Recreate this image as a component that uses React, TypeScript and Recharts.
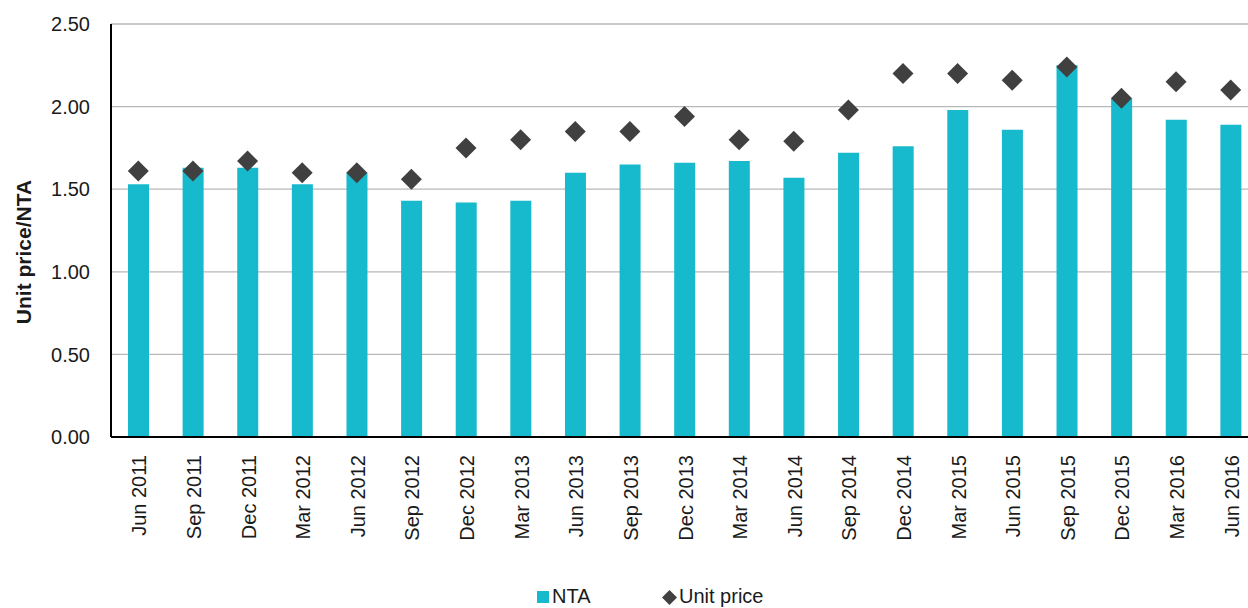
import React from 'react';
import { ComposedChart, Bar, Scatter, XAxis, YAxis, CartesianGrid, Legend } from 'recharts';

const quarters = [
  'Jun 2011', 'Sep 2011', 'Dec 2011', 'Mar 2012', 'Jun 2012', 'Sep 2012', 'Dec 2012',
  'Mar 2013', 'Jun 2013', 'Sep 2013', 'Dec 2013', 'Mar 2014', 'Jun 2014', 'Sep 2014',
  'Dec 2014', 'Mar 2015', 'Jun 2015', 'Sep 2015', 'Dec 2015', 'Mar 2016', 'Jun 2016',
];
const ntaValues = [
  1.53, 1.63, 1.63, 1.53, 1.6, 1.43, 1.42, 1.43, 1.6, 1.65, 1.66,
  1.67, 1.57, 1.72, 1.76, 1.98, 1.86, 2.25, 2.05, 1.92, 1.89,
];
const unitPriceValues = [
  1.61, 1.61, 1.67, 1.6, 1.6, 1.56, 1.75, 1.8, 1.85, 1.85, 1.94,
  1.8, 1.79, 1.98, 2.2, 2.2, 2.16, 2.24, 2.05, 2.15, 2.1,
];
const yTicks = [0, 0.5, 1, 1.5, 2, 2.5];

const data = quarters.map((q, i) => ({ quarter: q, nta: ntaValues[i], unitPrice: unitPriceValues[i] }));

const FONT = '"Liberation Sans", Arial, Helvetica, sans-serif';
const BAR_COLOR = '#17b9cc';
const DOT_COLOR = '#404040';

const Diamond = (props: any) => {
  const { cx, cy } = props;
  const r = 10.5;
  return <path d={`M${cx},${cy - r}L${cx + r},${cy}L${cx},${cy + r}L${cx - r},${cy}Z`} fill={DOT_COLOR} />;
};

const QuarterTick = (props: any) => {
  const { x, y, payload } = props;
  const ty = y + 18;
  return (
    <text
      x={x + 1}
      y={ty}
      transform={`rotate(-90, ${x + 1}, ${ty})`}
      textAnchor="end"
      dominantBaseline="central"
      fontSize={20}
      fontFamily={FONT}
      fill="#1a1a1a"
    >
      {payload.value}
    </text>
  );
};

const AxisTitle = () => (
  <text
    x={23}
    y={252}
    transform="rotate(-90, 23, 252)"
    textAnchor="middle"
    dominantBaseline="central"
    fontSize={21}
    fontWeight="bold"
    fontFamily={FONT}
    fill="#1a1a1a"
  >
    Unit price/NTA
  </text>
);

const LegendContent = () => (
  <div style={{ position: 'relative', height: 40, fontFamily: FONT, fontSize: 20, lineHeight: '20px', color: '#1a1a1a' }}>
    <div style={{ position: 'absolute', left: 537, top: 11, width: 12, height: 12, background: BAR_COLOR }} />
    <div style={{ position: 'absolute', left: 552, top: 6, whiteSpace: 'nowrap' }}>NTA</div>
    <svg style={{ position: 'absolute', left: 662, top: 10 }} width={15} height={15}>
      <path d="M7.5,0L15,7.5L7.5,15L0,7.5Z" fill={DOT_COLOR} />
    </svg>
    <div style={{ position: 'absolute', left: 679, top: 6, whiteSpace: 'nowrap' }}>Unit price</div>
  </div>
);

export default function App() {
  return (
    <div style={{ position: 'absolute', left: 0, top: 0, width: 1248, height: 608, overflow: 'hidden', background: '#fff' }}>
      <ComposedChart width={1270} height={620} data={data} margin={{ top: 24, right: 12, left: 0, bottom: 0 }}>
        <CartesianGrid vertical={false} stroke="#b8b8b8" strokeWidth={1.3} />
        <XAxis
          dataKey="quarter"
          interval={0}
          height={143}
          tickLine={false}
          tickSize={0}
          tickMargin={0}
          tick={<QuarterTick />}
          axisLine={{ stroke: '#000', strokeWidth: 2 }}
        />
        <YAxis
          width={111}
          domain={[0, 2.5]}
          ticks={yTicks}
          tickFormatter={(v: number) => v.toFixed(2)}
          tickLine={false}
          tickSize={0}
          tickMargin={21}
          tick={{ fontSize: 20, fontFamily: FONT, fill: '#1a1a1a' }}
          axisLine={{ stroke: '#000', strokeWidth: 2 }}
          label={AxisTitle}
        />
        <Legend verticalAlign="bottom" content={LegendContent} wrapperStyle={{ height: 40 }} />
        <Bar dataKey="nta" name="NTA" fill={BAR_COLOR} barSize={21} isAnimationActive={false} />
        <Scatter dataKey="unitPrice" name="Unit price" fill={DOT_COLOR} shape={Diamond} isAnimationActive={false} />
      </ComposedChart>
    </div>
  );
}
